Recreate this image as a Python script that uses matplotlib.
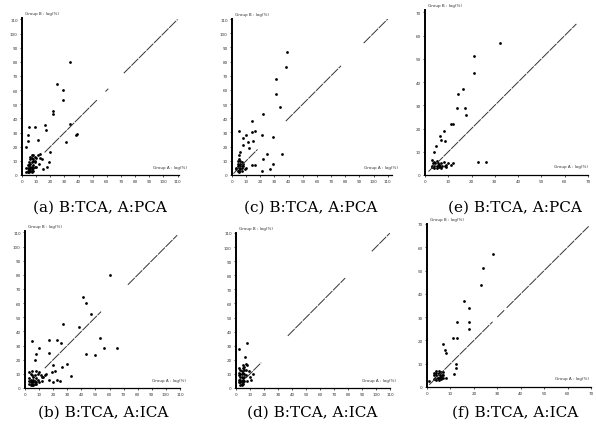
import matplotlib.pyplot as plt

# panel (a) B:TCA, A:PCA
a_x = [34, 25, 29, 29, 22, 22, 34, 16, 17, 5, 9, 4, 4, 3, 11, 31, 38, 39, 20, 13, 13, 19, 18, 15,
       6, 7, 8, 9, 10, 6, 7, 8, 9, 5, 6, 7, 8, 9, 4, 5, 6, 7, 8, 3, 4, 5, 6, 7, 8, 9, 4, 5, 6, 7,
       3, 4, 5, 6, 7, 8, 10, 12, 11, 14]
a_y = [80, 64, 60, 53, 45, 43, 36, 35, 32, 34, 34, 28, 24, 20, 25, 23, 28, 29, 16, 15, 12, 9, 6, 4,
       13, 14, 14, 13, 12, 11, 12, 11, 10, 9, 8, 9, 10, 9, 7, 7, 6, 6, 7, 5, 5, 4, 5, 4, 5, 6, 3, 3, 3, 2,
       2, 2, 2, 3, 3, 3, 6, 8, 14, 11]
a_diag = [(16, 53), (59, 61), (72, 110)]

# panel (c) B:TCA, A:PCA
c_x = [39, 38, 31, 31, 34, 22, 14, 14, 16, 21, 29, 5, 8, 8, 10, 11, 15, 12, 25, 35, 22, 29, 27, 14, 16,
       6, 5, 21, 4, 5, 6, 7, 8, 4, 5, 6, 7, 3, 4, 5, 6, 7, 8, 4, 5, 6, 7, 9, 10, 3, 5]
c_y = [87, 76, 68, 57, 48, 43, 38, 30, 31, 28, 27, 31, 21, 26, 28, 23, 24, 19, 15, 15, 11, 8, 4, 7, 7,
       16, 14, 3, 10, 11, 10, 9, 8, 8, 7, 8, 7, 5, 6, 5, 6, 5, 6, 3, 3, 4, 3, 4, 5, 4, 2]
c_diag = [(1, 18), (38, 77), (93, 110)]

# panel (e) B:TCA, A:PCA
e_x = [32, 21, 21, 16.5, 14, 17, 13.7, 17.5, 11, 12, 8, 6.5, 8.6, 7, 4.7, 4, 3, 22.7, 26, 12,
       3, 4, 5, 6, 7, 8, 9, 10, 11, 3.5, 4.5, 5.5, 6.5, 7.5, 8.5, 4, 5, 6, 7, 9, 3, 4, 5, 6]
e_y = [57, 51, 44, 37, 35, 29, 29, 26, 22, 22, 19, 16.6, 14.7, 15, 12.6, 10, 6.6, 5.4, 5.7, 5,
       4, 4, 4, 4.5, 5, 5.5, 4.5, 5, 4.5, 5, 5, 5, 4, 4, 4, 3, 3, 3.5, 3, 3.5, 3.5, 5.5, 6, 4.5]
e_diag = [(1.5, 65)]

# panel (b) B:TCA, A:ICA
b_x = [60, 41, 43, 47, 38, 27, 23, 25.6, 17, 5, 10, 17, 8, 7, 53, 56, 65, 43, 50, 30, 26, 20, 32.5,
       21, 19, 15, 23, 17, 13, 20, 8, 9, 10, 11, 12, 3, 4, 5, 6, 7, 8, 9, 3, 4, 5, 6, 7, 8, 4, 5, 6, 7,
       3, 4, 5, 6, 8, 10, 12, 3, 5, 14, 25]
b_y = [80, 64, 60, 52, 43, 45, 34, 32, 34, 33, 28, 25, 24, 20, 35, 28, 28, 24, 23, 17, 15, 16, 8.5,
       12, 11, 10, 6, 6, 8, 4, 12, 10, 11, 9, 8, 11, 10, 9, 8, 9, 7, 6, 7, 6, 5, 6, 5, 4, 4, 3, 4, 3,
       3, 2, 2, 2, 3, 4, 5, 5, 12, 9, 5]
b_diag = [(14, 54), (73, 108)]

# panel (d) B:TCA, A:ICA
d_x = [7.6, 2.4, 6.4, 5, 7, 6, 8, 12, 10, 9, 11,
       2, 3, 4, 5, 6, 2, 3, 4, 5, 6, 7, 2, 3, 4, 5, 6, 2, 3, 4, 5, 2, 3, 4, 5, 6, 3, 4, 5, 8, 7]
d_y = [32, 28, 22, 16, 17, 15, 16, 10, 8, 12, 6,
       14, 13, 12, 14, 13, 11, 10, 10, 11, 10, 9, 9, 8, 8, 7, 8, 6, 6, 5, 6, 4, 4, 3, 4, 5, 2, 2, 3, 5, 13]
d_diag = [(7, 18), (37, 78), (97, 110)]

# panel (f) B:TCA, A:ICA
f_x = [28, 24, 23, 16, 18, 13, 18, 18, 11, 13, 7, 7.6, 8, 12.5, 12.5, 11.4, 8, 7,
       3, 4, 5, 6, 7, 3, 4, 5, 6, 7, 3.5, 4.5, 5.5, 6.5, 4, 5, 6, 3, 4, 5, 6, 4.5, 5.5, 1]
f_y = [57, 51, 44, 37, 34, 28, 28, 25, 21, 21, 18.6, 15.7, 14.6, 10, 8, 5.7, 4, 6.4,
       6, 7, 6, 6.5, 5, 5, 5, 5.5, 4.5, 4, 4, 4, 4.5, 5, 3, 3, 3.5, 3.5, 6, 7, 4, 4, 5, 2.5]
f_diag = [(1, 28), (30, 33), (34, 69)]

captions = ['(a) B:TCA, A:PCA', '(c) B:TCA, A:PCA', '(e) B:TCA, A:PCA',
            '(b) B:TCA, A:ICA', '(d) B:TCA, A:ICA', '(f) B:TCA, A:ICA']
big_ticks = list(range(0, 111, 10))
small_ticks = list(range(0, 71, 10))

W, H = 596, 431
fig = plt.figure(figsize=(W / 100, H / 100), dpi=100)

# (x, y, diag, left px, right px, top px, bottom px, xmax, ymax, ticks, caption x px, caption y px, xlabel pos)
panels = [
    (a_x, a_y, a_diag, 22, 179, 19, 176, 111, 111, big_ticks, 100, 208, 1.05),
    (c_x, c_y, c_diag, 232, 392, 20, 176, 113, 110, big_ticks, 311, 208, 1.04),
    (e_x, e_y, e_diag, 425, 588, 11, 176, 70, 71, small_ticks, 515, 208, 1.0),
    (b_x, b_y, b_diag, 25, 180, 232, 389, 108, 111, big_ticks, 103, 413, 1.04),
    (d_x, d_y, d_diag, 236, 390, 234, 389, 110, 110, big_ticks, 312, 413, 1.04),
    (f_x, f_y, f_diag, 427, 591, 225, 388, 70, 70, small_ticks, 515, 413, 0.99),
]

for i, (xs, ys, diag, l, r, t, b, xm, ym, ticks, cx, cy, xl) in enumerate(panels):
    ax = fig.add_axes([l / W, 1 - b / H, (r - l) / W, (b - t) / H])
    for s0, s1 in diag:
        ax.plot([s0, s1], [s0, s1], color='#333333', lw=0.7, ls=(0, (10, 1)))
    ax.scatter(xs, ys, s=4, color='black', linewidths=0)
    ax.set_xlim(0, xm)
    ax.set_ylim(0, ym)
    ax.set_xticks(ticks)
    ax.set_yticks(ticks)
    ax.tick_params(labelsize=3, length=1.5, width=0.6, pad=1.5, colors='#333333')
    for side in ['top', 'right']:
        ax.spines[side].set_visible(False)
    ax.spines['left'].set_linewidth(1.4)
    ax.spines['bottom'].set_linewidth(0.9)
    ax.patch.set_alpha(0)
    ax.text(0.02, 1.02, 'Group B : log(%)', transform=ax.transAxes, fontsize=3,
            ha='left', va='bottom', color='#333333')
    ax.text(xl, 0.04, 'Group A : log(%)', transform=ax.transAxes, fontsize=3,
            ha='right', va='bottom', color='#333333')
    fig.text(cx / W, 1 - cy / H, captions[i], fontsize=11, family='DejaVu Serif',
             ha='center', va='center')

plt.savefig('out.png', dpi=100)
